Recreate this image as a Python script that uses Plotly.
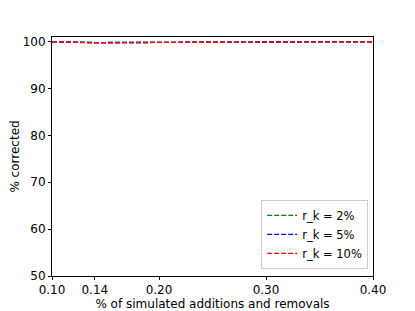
import plotly.graph_objects as go

x_vals = [0.10, 0.14, 0.20, 0.30, 0.40]
green_vals = [100.0, 99.8, 99.85, 99.95, 100.0]
blue_vals = [100.0, 99.8, 99.85, 99.95, 100.0]
red_vals = [100.0, 99.75, 99.85, 99.95, 100.0]
names = ["r_k = 2%", "r_k = 5%", "r_k = 10%"]
colors = ["#008000", "#0000ff", "#ff0000"]
x_ticks = [0.10, 0.14, 0.20, 0.30, 0.40]
x_ticklabels = ["0.10", "0.14", "0.20", "0.30", "0.40"]
y_ticks = [50, 60, 70, 80, 90, 100]

fig = go.Figure()
for vals, name, col in zip([green_vals, blue_vals, red_vals], names, colors):
    fig.add_trace(go.Scatter(x=x_vals, y=vals, mode="lines", name=name,
                             line=dict(color=col, dash="5px,2px", width=1.4)))

axis_common = dict(showline=True, linecolor="black", linewidth=1, mirror=True,
                   ticks="outside", ticklen=3, tickcolor="black", showgrid=False,
                   zeroline=False, tickfont=dict(size=12, color="black"),
                   automargin=False)
fig.update_layout(
    width=415, height=311,
    margin=dict(l=52, r=42, t=37, b=35),
    paper_bgcolor="white", plot_bgcolor="white",
    font=dict(family="DejaVu Sans", size=12, color="black"),
    xaxis=dict(range=[0.10, 0.40], tickvals=x_ticks, ticktext=x_ticklabels,
               title=dict(text="% of simulated additions and removals", standoff=0,
                          font=dict(size=12)), **axis_common),
    yaxis=dict(range=[50, 101], tickvals=y_ticks,
               title=dict(text="% corrected", standoff=0, font=dict(size=12)), **axis_common),
    legend=dict(x=0.985, y=0.03, xanchor="right", yanchor="bottom",
                bgcolor="rgba(255,255,255,0.8)", bordercolor="#cccccc", borderwidth=1,
                font=dict(size=11.5), tracegroupgap=0, itemwidth=30),
    showlegend=True,
)
fig.write_html("out.html", config={"displayModeBar": False},
               post_script="document.body.style.margin='0';")
